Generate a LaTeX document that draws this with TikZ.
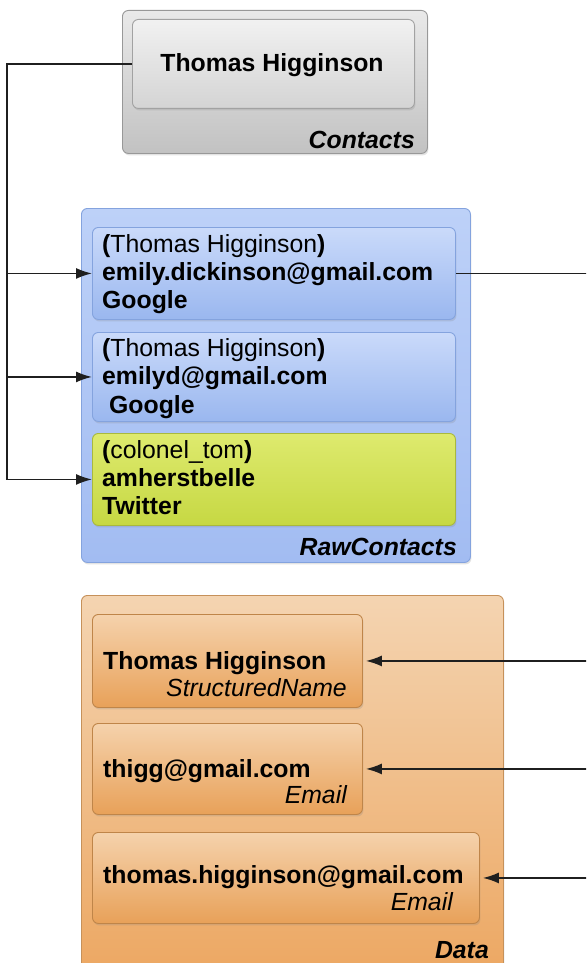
\documentclass[tikz,border=0pt]{standalone}
\usepackage{fontspec}
\setmainfont{Liberation Sans}
\usetikzlibrary{arrows.meta,shadows}

\definecolor{grayTop}{HTML}{E9E9E9}
\definecolor{grayBot}{HTML}{C2C2C2}
\definecolor{grayLine}{HTML}{989898}
\definecolor{grayInTop}{HTML}{F1F1F1}
\definecolor{grayInBot}{HTML}{D4D4D4}
\definecolor{blueTop}{HTML}{BDD1F8}
\definecolor{blueBot}{HTML}{A2BCF2}
\definecolor{blueLine}{HTML}{84A3DE}
\definecolor{blueInTop}{HTML}{CADAFA}
\definecolor{blueInBot}{HTML}{9AB7EF}
\definecolor{greenTop}{HTML}{DEEA6E}
\definecolor{greenBot}{HTML}{C6D843}
\definecolor{greenLine}{HTML}{A9B93C}
\definecolor{orangeTop}{HTML}{F4D4B1}
\definecolor{orangeBot}{HTML}{ECA660}
\definecolor{orangeLine}{HTML}{C6915A}
\definecolor{orangeInTop}{HTML}{F5D2AC}
\definecolor{orangeInBot}{HTML}{E8A159}
\definecolor{orangeInLine}{HTML}{BF8549}

\tikzset{
  x=1pt, y=-1pt,
  panel/.style 2 args={draw=#2, line width=0.9pt, rounded corners=6pt,
    inner sep=0pt, anchor=north west,
    top color=#1Top, bottom color=#1Bot,
    drop shadow={opacity=0.22, shadow xshift=1pt, shadow yshift=-2pt}},
  txt/.style={inner sep=0pt, font=\fontsize{24.8}{28}\selectfont},
  conn/.style={line width=1.6pt, black!88},
  tip/.style={-{Latex[length=16pt,width=11pt]}},
}

\begin{document}
\begin{tikzpicture}
\useasboundingbox (0,0) rectangle (586,963);
\clip (0,0) rectangle (586,963);

% Contacts table
\node[panel={gray}{grayLine}, minimum width=305, minimum height=143] (contacts) at (122,10) {};
\node[panel={grayIn}{grayLine!90}, drop shadow={opacity=0}, minimum width=282, minimum height=89] (cin) at (132,19) {};
\node[txt, anchor=base] (cname) at (272,72) {\bfseries Thomas Higginson};
\node[txt, anchor=base east] (clabel) at (415,148) {\bfseries\itshape Contacts};

% RawContacts table
\node[panel={blue}{blueLine}, minimum width=389, minimum height=354] (raw) at (81,208) {};
\node[panel={blueIn}{blueLine}, drop shadow={opacity=0}, minimum width=363, minimum height=92] (r1) at (92,227) {};
\node[panel={blueIn}{blueLine}, drop shadow={opacity=0}, minimum width=363, minimum height=89] (r2) at (92,332) {};
\node[panel={green}{greenLine}, drop shadow={opacity=0}, minimum width=363, minimum height=92] (r3) at (92,433) {};

\node[txt, anchor=base west] (r1a) at (102,252) {\textbf{(}Thomas Higginson\textbf{)}};
\node[txt, anchor=base west] (r1b) at (102,280) {\bfseries emily.dickinson@gmail.com};
\node[txt, anchor=base west] (r1c) at (102,308) {\bfseries Google};

\node[txt, anchor=base west] (r2a) at (102,356) {\textbf{(}Thomas Higginson\textbf{)}};
\node[txt, anchor=base west] (r2b) at (102,384) {\bfseries emilyd@gmail.com};
\node[txt, anchor=base west] (r2c) at (109,413) {\bfseries Google};

\node[txt, anchor=base west] (r3a) at (102,458) {\textbf{(}colonel\_tom\textbf{)}};
\node[txt, anchor=base west] (r3b) at (102,486) {\bfseries amherstbelle};
\node[txt, anchor=base west] (r3c) at (102,514) {\bfseries Twitter};

\node[txt, anchor=base east] (rlabel) at (457,555) {\bfseries\itshape RawContacts};

% Data table
\node[panel={orange}{orangeLine}, minimum width=422, minimum height=390] (data) at (81,595) {};
\node[panel={orangeIn}{orangeInLine}, drop shadow={opacity=0}, minimum width=270, minimum height=93] (d1) at (92,614) {};
\node[panel={orangeIn}{orangeInLine}, drop shadow={opacity=0}, minimum width=270, minimum height=91] (d2) at (92,723) {};
\node[panel={orangeIn}{orangeInLine}, drop shadow={opacity=0}, minimum width=387, minimum height=91] (d3) at (92,832) {};

\node[txt, anchor=base west] (d1a) at (103,669) {\bfseries Thomas Higginson};
\node[txt, anchor=base east] (d1b) at (347,696) {\itshape StructuredName};
\node[txt, anchor=base west] (d2a) at (103,777) {\bfseries thigg@gmail.com};
\node[txt, anchor=base east] (d2b) at (347,803) {\itshape Email};
\node[txt, anchor=base west] (d3a) at (103,883) {\bfseries thomas.higginson@gmail.com};
\node[txt, anchor=base east] (d3b) at (453,910) {\itshape Email};
\node[txt, anchor=base east] (dlabel) at (489,958) {\bfseries\itshape Data};

% connectors
\coordinate (bus) at (7,0);
\coordinate (rim) at (600,0);

\draw[conn, tip] (cin.west) -| (bus |- r3.west) -- (r3.west);
\draw[conn, tip] (bus |- r1.west) -- (r1.west);
\draw[conn, tip] (bus |- r2.west) -- (r2.west);

\draw[conn] (r1.east) -- (rim |- r1.east);

\draw[conn, tip, shorten >=3pt] (rim |- d1.east) -- (d1.east);
\draw[conn, tip, shorten >=3pt] (rim |- d2.east) -- (d2.east);
\draw[conn, tip, shorten >=3pt] (rim |- d3.east) -- (d3.east);
\end{tikzpicture}
\end{document}
